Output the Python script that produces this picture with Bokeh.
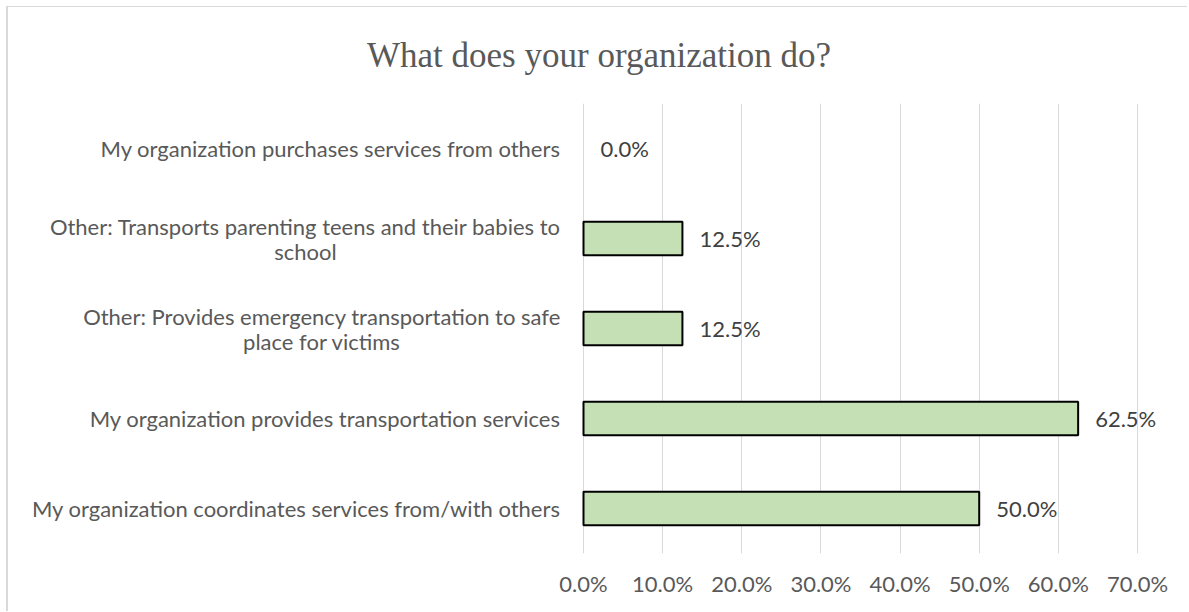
from bokeh.plotting import figure
from bokeh.models import (ColumnDataSource, FactorRange, Range1d, FixedTicker,
                          NumeralTickFormatter, LabelSet, CDSView, BooleanFilter)
from bokeh.core.properties import value
from bokeh.embed import file_html
from bokeh.resources import INLINE

title_text = "What does your organization do?"
categories = [
    "My organization purchases services from others",
    "Other: Transports parenting teens and their babies to\nschool",
    "Other: Provides emergency transportation to safe\nplace for victims",
    "My organization provides transportation services",
    "My organization coordinates services from/with others",
]
values = [0.0, 0.125, 0.125, 0.625, 0.50]
value_labels = ["0.0%", "12.5%", "12.5%", "62.5%", "50.0%"]
x_ticks = [0.0, 0.1, 0.2, 0.3, 0.4, 0.5, 0.6, 0.7]

LABEL_FONT = "Lato"
LABEL_SIZE = "22px"
W, H = 1181, 605
AXIS_PX = 575            # canvas x of the value axis (x = 0)
PX_PER_UNIT = 554 / 0.7  # plot scale: 70% spans 554 px
CAT_GAP = 23             # gap between category labels and the axis
LINE_STEP = 25           # line spacing of wrapped category labels
# measured widths (px) of the widest line of each two-line category label
WIDEST_LINE = {1: 510, 2: 477}

src = ColumnDataSource(dict(cat=categories, val=values, lab=value_labels))

p = figure(width=W, height=H, output_backend="svg", toolbar_location=None,
           y_range=FactorRange(factors=list(reversed(categories))),
           x_range=Range1d(-AXIS_PX / PX_PER_UNIT, (W - AXIS_PX) / PX_PER_UNIT),
           min_border_left=0, min_border_right=0, min_border_top=96,
           min_border_bottom=59)
p.styles = {"margin-left": "6px", "margin-top": "6px",
            "border-left": "2px solid #d9d9d9", "border-top": "1px solid #d9d9d9"}
p.outline_line_color = None
p.background_fill_color = "white"
p.border_fill_color = "white"

p.title.text = title_text
p.title.align = "center"
p.title.vertical_align = "top"
p.title.text_font = "Liberation Serif"
p.title.text_font_size = "35px"
p.title.text_font_style = "normal"
p.title.text_color = "#595959"
if "standoff" in p.title.properties():
    p.title.standoff = 53

view = CDSView(filter=BooleanFilter([v > 0 for v in values]))
p.hbar(y="cat", left=0, right="val", height=0.37, source=src, view=view,
       fill_color="#C5E0B4", line_color="black", line_width=2)

p.add_layout(LabelSet(x="val", y="cat", text="lab", source=src, x_offset=17,
                      text_baseline="middle", text_align="left",
                      text_font=value(LABEL_FONT), text_font_size=value(LABEL_SIZE),
                      text_color="#404040"))

# category labels (left of the value axis), wrapped lines centred like the original
single = dict(cat=[], x=[], txt=[])
multi = dict(cat=[], x=[], txt=[], xo=[], yo=[])
for i, c in enumerate(categories):
    lines = c.split("\n")
    if len(lines) == 1:
        single["cat"].append(c); single["x"].append(0); single["txt"].append(c)
    else:
        n = len(lines)
        for k, ln in enumerate(lines):
            multi["cat"].append(c); multi["x"].append(0); multi["txt"].append(ln)
            multi["xo"].append(-(CAT_GAP + WIDEST_LINE[i] / 2))
            multi["yo"].append((n - 1) / 2 * LINE_STEP - k * LINE_STEP)

p.add_layout(LabelSet(x="x", y="cat", text="txt", source=ColumnDataSource(single),
                      x_offset=-CAT_GAP, text_baseline="middle", text_align="right",
                      text_font=value(LABEL_FONT), text_font_size=value(LABEL_SIZE),
                      text_color="#595959"))
p.add_layout(LabelSet(x="x", y="cat", text="txt", source=ColumnDataSource(multi),
                      x_offset="xo", y_offset="yo",
                      text_baseline="middle", text_align="center",
                      text_font=value(LABEL_FONT), text_font_size=value(LABEL_SIZE),
                      text_color="#595959"))

p.ygrid.grid_line_color = None
p.yaxis.visible = False
p.xgrid.grid_line_color = "#d9d9d9"
p.xgrid.grid_line_width = 1
p.xaxis.ticker = FixedTicker(ticks=x_ticks)
p.xaxis.formatter = NumeralTickFormatter(format="0.0%")
p.xaxis.axis_line_color = None
p.xaxis.major_tick_line_color = None
p.xaxis.minor_tick_line_color = None
p.xaxis.major_label_standoff = 10
p.xaxis.major_label_text_font = LABEL_FONT
p.xaxis.major_label_text_font_size = LABEL_SIZE
p.xaxis.major_label_text_color = "#595959"

open("out.html", "w").write(file_html(p, INLINE))
